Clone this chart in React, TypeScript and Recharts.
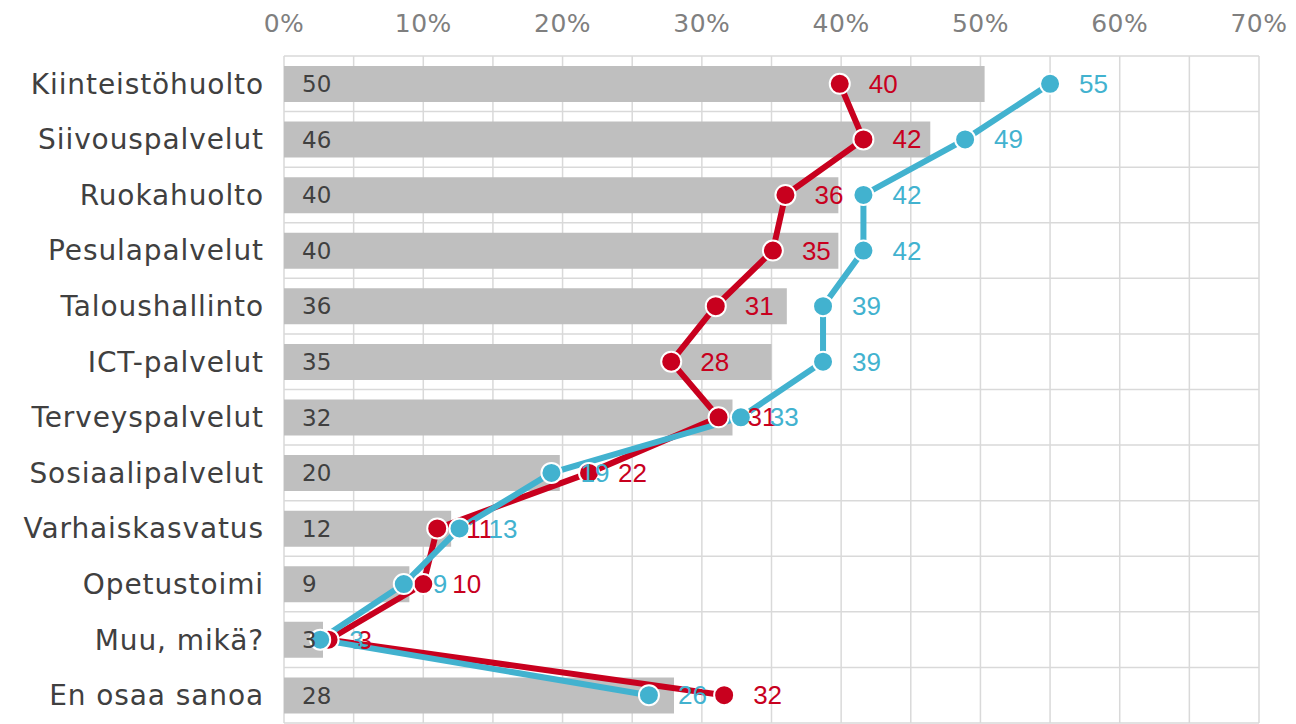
import React from 'react';
import { ComposedChart, Bar, Line, XAxis, YAxis, CartesianGrid, LabelList } from 'recharts';

const categories = [
  'Kiinteistöhuolto',
  'Siivouspalvelut',
  'Ruokahuolto',
  'Pesulapalvelut',
  'Taloushallinto',
  'ICT-palvelut',
  'Terveyspalvelut',
  'Sosiaalipalvelut',
  'Varhaiskasvatus',
  'Opetustoimi',
  'Muu, mikä?',
  'En osaa sanoa',
];

// grey bars
const totalValues = [50.3, 46.4, 39.8, 39.8, 36.1, 35.0, 32.2, 19.8, 12.0, 9.0, 2.8, 28.0];
// red line
const redValues = [39.9, 41.6, 36.0, 35.1, 31.0, 27.8, 31.2, 21.9, 11.0, 10.0, 3.2, 31.6];
// blue line
const blueValues = [55.0, 48.9, 41.6, 41.6, 38.7, 38.7, 32.8, 19.2, 12.6, 8.6, 2.6, 26.2];

const xTicks = [0, 5, 10, 15, 20, 25, 30, 35, 40, 45, 50, 55, 60, 65, 70];

const RED = '#c8001e';
const BLUE = '#42b2cf';

const data = categories.map((name, i) => ({
  name,
  total: totalValues[i],
  red: redValues[i],
  blue: blueValues[i],
}));

const pointLabel = (color: string) => (props: any) => {
  const x = props.x ?? props.viewBox?.x;
  const y = props.y ?? props.viewBox?.y;
  return (
    <text
      x={x + 29}
      y={y}
      dy="0.35em"
      fill={color}
      fontSize={26}
      fontFamily="Liberation Sans, Arial, sans-serif"
      textAnchor="start"
    >
      {Math.round(props.value)}
    </text>
  );
};

const App = () => {
  return (
    <div style={{ position: 'absolute', left: 0, top: 0, background: '#fff' }}>
      <ComposedChart
        width={1296}
        height={724}
        data={data}
        layout="vertical"
        margin={{ top: 0, right: 37, bottom: 1, left: 0 }}
      >
        <CartesianGrid
          stroke="#d9d9d9"
          strokeWidth={1.5}
          horizontalCoordinatesGenerator={({ offset }: any) =>
            Array.from({ length: categories.length + 1 }, (_, i) => offset.top + (i * offset.height) / categories.length)
          }
        />
        <XAxis
          type="number"
          orientation="top"
          domain={[0, 70]}
          ticks={xTicks}
          interval={0}
          height={56}
          axisLine={false}
          tickLine={false}
          tickSize={0}
          tickMargin={24}
          tickFormatter={(v: number) => (v % 10 === 0 ? `${v}%` : '')}
          tick={{ fill: '#7f7f7f', fontSize: 25, fontFamily: 'DejaVu Sans, sans-serif', letterSpacing: 0.5 }}
        />
        <YAxis
          type="category"
          dataKey="name"
          width={284}
          axisLine={false}
          tickLine={false}
          tickSize={0}
          tickMargin={20}
          interval={0}
          tick={{ fill: '#404040', fontSize: 28, fontFamily: 'DejaVu Sans, sans-serif', letterSpacing: 0.9 }}
        />
        <Bar dataKey="total" fill="#bfbfbf" barSize={36} isAnimationActive={false}>
          <LabelList
            dataKey="total"
            position="insideLeft"
            offset={18}
            fill="#404040"
            fontSize={23}
            fontFamily="DejaVu Sans, sans-serif"
            formatter={(v: any) => Math.round(Number(v))}
          />
        </Bar>
        <Line
          dataKey="red"
          stroke={RED}
          strokeWidth={6}
          dot={{ r: 10, fill: RED, stroke: '#fff', strokeWidth: 2 }}
          activeDot={false}
          isAnimationActive={false}
        >
          <LabelList dataKey="red" content={pointLabel(RED)} />
        </Line>
        <Line
          dataKey="blue"
          stroke={BLUE}
          strokeWidth={6}
          dot={{ r: 10, fill: BLUE, stroke: '#fff', strokeWidth: 2 }}
          activeDot={false}
          isAnimationActive={false}
        >
          <LabelList dataKey="blue" content={pointLabel(BLUE)} />
        </Line>
      </ComposedChart>
    </div>
  );
};

export default App;
